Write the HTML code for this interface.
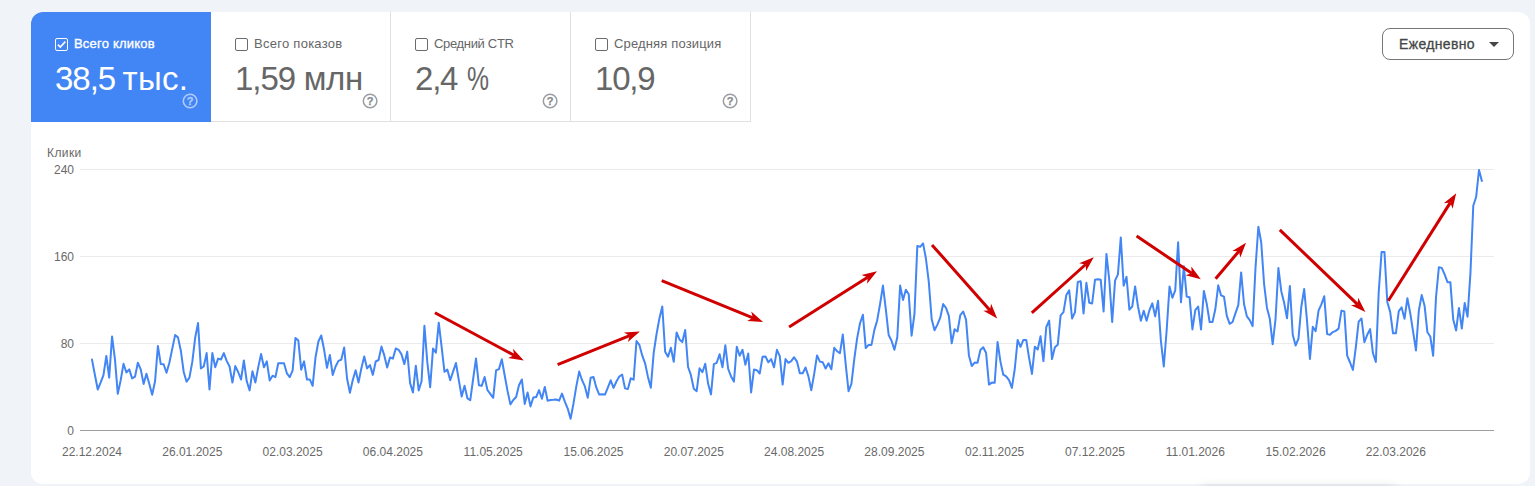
<!DOCTYPE html>
<html><head><meta charset="utf-8">
<style>
html,body{margin:0;padding:0;}
body{width:1535px;height:486px;overflow:hidden;background:#f0f4f9;font-family:"Liberation Sans",sans-serif;position:relative;}
.card{position:absolute;left:31px;top:12px;width:1499px;height:472px;background:#fff;border-radius:12px;overflow:hidden;}
.tab{position:absolute;top:0;height:109px;width:179px;border-right:1px solid #e0e0e0;border-bottom:1px solid #e0e0e0;box-sizing:content-box;}
.tab.active{background:#4285f4;border-color:#4285f4;}
.cb{position:absolute;left:24px;top:26px;width:11px;height:11px;border:1px solid #6b6b6b;border-radius:2px;}
.tab.active .cb{border-color:#fff;}
.lbl{position:absolute;left:43px;top:24px;font-size:13px;line-height:16px;color:#666;white-space:nowrap;}
.tab.active .lbl{color:#fff;-webkit-text-stroke:0.35px #fff;letter-spacing:0.2px;}
.val{position:absolute;left:24px;top:47.5px;font-size:33px;line-height:38px;color:#666;white-space:nowrap;}
.tab.active .val{color:#fff;}
.help{position:absolute;left:151px;top:81px;width:16px;height:16px;}
.dd{position:absolute;left:1382px;top:28px;width:130px;height:30px;border:1px solid #747775;border-radius:8px;background:#fff;}
.dd span{position:absolute;left:16px;top:7px;font-size:14px;line-height:16px;color:#444746;-webkit-text-stroke:0.3px #444746;letter-spacing:0.35px;white-space:nowrap;}
.dd i{position:absolute;left:105.5px;top:13px;width:0;height:0;border-left:5px solid transparent;border-right:5px solid transparent;border-top:5px solid #444746;}
.yl{position:absolute;width:40px;text-align:right;font-size:12px;line-height:14px;color:#696969;left:34px;}
.xl{position:absolute;top:445px;width:80px;text-align:center;font-size:12px;line-height:14px;color:#696969;}
.ttl{position:absolute;left:47px;top:146px;font-size:12px;line-height:14px;color:#696969;letter-spacing:0.4px;}
svg.chart{position:absolute;left:0;top:0;}
</style></head><body>
<div class="card">
 <div class="tab active" style="left:0"><div class="cb"><svg width="11" height="11" viewBox="0 0 11 11" style="position:absolute;left:0;top:0"><path d="M1.8 5.6 L4.3 8.1 L9.3 2.6" fill="none" stroke="#fff" stroke-width="1.6"/></svg></div><div class="lbl">Всего кликов</div><div class="val"><span style="letter-spacing:-1px">38,5</span><span style="letter-spacing:0.3px;margin-left:7.3px">тыс.</span></div>
  <svg class="help" viewBox="0 0 16 16"><circle cx="8.1" cy="8" r="6.8" fill="none" stroke="#b0cbfa" stroke-width="1.6"/><text x="8.1" y="12.2" font-size="11" text-anchor="middle" fill="#b0cbfa" stroke="#b0cbfa" stroke-width="0.3" font-family="Liberation Sans" font-weight="bold">?</text></svg></div>
 <div class="tab" style="left:180px"><div class="cb"></div><div class="lbl" style="letter-spacing:0.27px">Всего показов</div><div class="val"><span style="letter-spacing:-1px">1,59</span><span style="letter-spacing:-0.3px;margin-left:8.5px">млн</span></div>
  <svg class="help" viewBox="0 0 16 16"><circle cx="8.1" cy="8" r="6.8" fill="none" stroke="#9a9ea3" stroke-width="1.5"/><text x="8.1" y="12.2" font-size="11" text-anchor="middle" fill="#85898e" stroke="#85898e" stroke-width="0.25" font-family="Liberation Sans" font-weight="bold">?</text></svg></div>
 <div class="tab" style="left:360px"><div class="cb"></div><div class="lbl" style="letter-spacing:-0.33px">Средний CTR</div><div class="val"><span style="letter-spacing:-1.2px">2,4</span><span style="display:inline-block;transform:scaleX(.75);transform-origin:left center;margin-left:9.3px">%</span></div>
  <svg class="help" viewBox="0 0 16 16"><circle cx="8.1" cy="8" r="6.8" fill="none" stroke="#9a9ea3" stroke-width="1.5"/><text x="8.1" y="12.2" font-size="11" text-anchor="middle" fill="#85898e" stroke="#85898e" stroke-width="0.25" font-family="Liberation Sans" font-weight="bold">?</text></svg></div>
 <div class="tab" style="left:540px"><div class="cb"></div><div class="lbl" style="letter-spacing:0.15px">Средняя позиция</div><div class="val" style="letter-spacing:-1.2px">10,9</div>
  <svg class="help" viewBox="0 0 16 16"><circle cx="8.1" cy="8" r="6.8" fill="none" stroke="#9a9ea3" stroke-width="1.5"/><text x="8.1" y="12.2" font-size="11" text-anchor="middle" fill="#85898e" stroke="#85898e" stroke-width="0.25" font-family="Liberation Sans" font-weight="bold">?</text></svg></div>
</div>
<div class="dd"><span>Ежедневно</span><i></i></div>
<div class="ttl">Клики</div>
<div class="yl" style="top:163px">240</div>
<div class="yl" style="top:250px">160</div>
<div class="yl" style="top:337px">80</div>
<div class="yl" style="top:424px">0</div>
<div class="xl" style="left:52.0px">22.12.2024</div>
<div class="xl" style="left:152.3px">26.01.2025</div>
<div class="xl" style="left:252.6px">02.03.2025</div>
<div class="xl" style="left:352.9px">06.04.2025</div>
<div class="xl" style="left:453.2px">11.05.2025</div>
<div class="xl" style="left:553.5px">15.06.2025</div>
<div class="xl" style="left:653.8px">20.07.2025</div>
<div class="xl" style="left:754.1px">24.08.2025</div>
<div class="xl" style="left:854.4px">28.09.2025</div>
<div class="xl" style="left:954.7px">02.11.2025</div>
<div class="xl" style="left:1055.0px">07.12.2025</div>
<div class="xl" style="left:1155.3px">11.01.2026</div>
<div class="xl" style="left:1255.6px">15.02.2026</div>
<div class="xl" style="left:1355.9px">22.03.2026</div>
<svg class="chart" width="1535" height="486" viewBox="0 0 1535 486">
 <g shape-rendering="crispEdges">
 <rect x="80" y="169" width="1414" height="1" fill="#ebebeb"/>
 <rect x="80" y="256" width="1414" height="1" fill="#ebebeb"/>
 <rect x="80" y="343" width="1414" height="1" fill="#ebebeb"/>
 <rect x="80" y="430" width="1414" height="1" fill="#9e9e9e"/>
 </g>
 <polyline fill="none" stroke="#4285f4" stroke-width="2" stroke-linejoin="round" stroke-linecap="round" points="92.0,359.6 94.87,374.8 97.73,389.5 100.6,382.6 103.46,375.2 106.33,355.9 109.19,377.6 112.06,336.4 114.93,359.1 117.79,393.8 120.66,380.4 123.52,363.8 126.39,372.5 129.25,369.4 132.12,378.4 134.99,376.7 137.85,362.7 140.72,369.3 143.58,383.9 146.45,373.8 149.31,384.1 152.18,394.7 155.05,381.3 157.91,346.1 160.78,364.1 163.64,364.2 166.51,372.8 169.37,362.8 172.24,348.9 175.11,335.1 177.97,337.4 180.84,350.7 183.7,372.0 186.57,381.7 189.43,377.6 192.3,361.9 195.17,337.8 198.03,323.1 200.9,368.4 203.76,366.5 206.63,353.1 209.49,389.5 212.36,353.1 215.23,367.3 218.09,358.6 220.96,359.5 223.82,353.1 226.69,360.9 229.55,366.5 232.42,382.6 235.29,366.1 238.15,372.0 241.02,379.5 243.88,360.5 246.75,381.3 249.61,390.4 252.48,371.2 255.35,382.6 258.21,367.4 261.08,354.0 263.94,367.3 266.81,361.4 269.67,380.4 272.54,375.7 275.41,377.1 278.27,363.3 281.14,363.3 284.0,363.3 286.87,373.3 289.73,377.1 292.6,370.7 295.47,337.9 298.33,340.6 301.2,369.7 304.06,361.4 306.93,379.5 309.79,379.4 312.66,385.8 315.53,357.2 318.39,341.5 321.26,335.5 324.12,349.8 326.99,367.8 329.85,354.9 332.72,374.9 335.59,366.5 338.45,360.9 341.32,359.6 344.18,347.5 347.05,378.5 349.91,392.8 352.78,380.0 355.65,370.3 358.51,382.6 361.38,368.3 364.24,356.4 367.11,368.4 369.97,365.1 372.84,374.9 375.71,361.5 378.57,360.0 381.44,346.6 384.3,355.4 387.17,367.5 390.03,357.4 392.9,358.6 395.77,348.5 398.63,349.8 401.5,354.4 404.36,364.1 407.23,351.6 410.09,383.1 412.96,392.5 415.83,365.7 418.69,390.4 421.56,381.3 424.42,325.7 427.29,361.9 430.15,387.2 433.02,348.6 435.89,352.6 438.75,322.7 441.62,346.9 444.48,371.8 447.35,369.6 450.21,380.2 453.08,371.6 455.95,363.0 458.81,380.2 461.68,396.5 464.54,385.7 467.41,398.3 470.27,400.2 473.14,379.0 476.01,358.5 478.87,385.2 481.74,385.9 484.6,377.0 487.47,390.1 490.33,393.8 493.2,397.8 496.07,370.4 498.93,369.1 501.8,359.3 504.66,375.3 507.53,390.9 510.39,404.4 513.26,400.0 516.13,397.0 518.99,385.2 521.86,379.5 524.72,403.9 527.59,392.4 530.45,406.4 533.32,397.5 536.19,397.0 539.05,390.1 541.92,398.8 544.78,386.9 547.65,400.7 550.51,400.0 553.38,399.8 556.25,399.5 559.11,400.7 561.98,393.6 564.84,401.7 567.71,408.6 570.57,418.8 573.44,403.7 576.31,386.4 579.17,371.6 582.04,380.2 584.9,386.4 587.77,397.8 590.63,377.8 593.5,377.0 596.37,387.7 599.23,394.6 602.1,394.3 604.96,394.6 607.83,387.7 610.69,380.3 613.56,387.9 616.43,381.5 619.29,376.5 622.16,374.6 625.02,388.4 627.89,389.1 630.75,378.3 633.62,379.7 636.49,341.1 639.35,344.8 642.22,355.4 645.08,363.3 647.95,376.9 650.81,387.8 653.68,353.0 656.55,334.0 659.41,318.4 662.28,306.5 665.14,351.7 668.01,356.7 670.87,347.8 673.74,361.8 676.61,332.5 679.47,339.4 682.34,342.1 685.2,330.0 688.07,367.0 690.93,375.2 693.8,388.8 696.67,391.2 699.53,368.3 702.4,372.2 705.26,363.8 708.13,383.8 710.99,394.4 713.86,364.1 716.73,362.8 719.59,354.2 722.46,367.3 725.32,345.3 728.19,369.0 731.05,376.4 733.92,381.6 736.79,346.8 739.65,355.7 742.52,349.8 745.38,364.8 748.25,353.5 751.11,392.5 753.98,369.5 756.85,370.2 759.71,373.5 762.58,356.7 765.44,356.4 768.31,362.3 771.17,359.1 774.04,367.3 776.91,349.8 779.77,356.2 782.64,384.6 785.5,359.1 788.37,362.8 791.23,361.1 794.1,357.2 796.97,361.6 799.83,373.2 802.7,373.2 805.56,367.5 808.43,376.4 811.29,390.2 814.16,374.0 817.03,355.4 819.89,361.6 822.76,362.3 825.62,368.5 828.49,363.3 831.35,369.3 834.22,347.8 837.09,351.2 839.95,353.2 842.82,334.5 845.68,364.1 848.55,391.2 851.41,383.8 854.28,359.1 857.15,338.1 860.01,323.3 862.88,314.7 865.74,348.1 868.61,344.9 871.47,344.9 874.34,330.1 877.21,320.2 880.07,304.1 882.94,285.6 885.8,309.1 888.67,335.0 891.53,340.7 894.4,349.8 897.27,337.5 900.13,285.6 903.0,299.9 905.86,289.8 908.73,294.3 911.59,335.7 914.46,314.0 917.33,245.9 920.19,246.8 923.06,243.4 925.92,258.5 928.79,281.9 931.65,319.0 934.52,330.3 937.39,324.6 940.25,317.7 943.12,304.1 945.98,307.8 948.85,315.9 951.71,343.3 954.58,329.3 957.45,331.5 960.31,315.2 963.18,311.5 966.04,319.6 968.91,355.4 971.77,366.0 974.64,362.6 977.51,362.8 980.37,350.0 983.24,347.3 986.1,353.0 988.97,384.6 991.83,382.6 994.7,382.8 997.57,341.9 1000.43,361.6 1003.3,374.7 1006.16,376.4 1009.03,380.1 1011.89,387.8 1014.76,369.0 1017.63,339.9 1020.49,346.8 1023.36,339.9 1026.22,339.9 1029.09,357.9 1031.95,373.9 1034.82,346.8 1037.69,349.5 1040.55,336.2 1043.42,361.1 1046.28,327.0 1049.15,320.6 1052.01,359.1 1054.88,347.3 1057.75,344.8 1060.61,315.4 1063.48,312.2 1066.34,295.0 1069.21,290.3 1072.07,318.5 1074.94,312.3 1077.81,281.9 1080.67,281.2 1083.54,313.5 1086.4,282.8 1089.27,302.8 1092.13,303.5 1095.0,279.8 1097.87,279.3 1100.73,279.8 1103.6,311.4 1106.46,253.9 1109.33,280.6 1112.19,322.0 1115.06,280.6 1117.93,274.4 1120.79,237.4 1123.66,285.7 1126.52,276.9 1129.39,309.7 1132.25,306.5 1135.12,286.5 1137.99,306.5 1140.85,320.8 1143.72,310.7 1146.58,320.8 1149.45,310.2 1152.31,303.3 1155.18,316.4 1158.05,300.8 1160.91,341.0 1163.78,366.5 1166.64,330.5 1169.51,286.5 1172.37,297.8 1175.24,290.4 1178.11,242.3 1180.97,302.3 1183.84,266.2 1186.7,296.6 1189.57,297.3 1192.43,329.4 1195.3,310.2 1198.17,306.5 1201.03,329.4 1203.9,290.9 1206.76,304.0 1209.63,322.0 1212.49,322.0 1215.36,309.0 1218.23,285.3 1221.09,295.4 1223.96,296.6 1226.82,315.9 1229.69,323.8 1232.55,322.0 1235.42,313.4 1238.29,305.2 1241.15,272.4 1244.02,304.0 1246.88,316.4 1249.75,320.1 1252.61,326.2 1255.48,268.2 1258.35,226.7 1261.21,242.3 1264.08,283.8 1266.94,307.7 1269.81,318.8 1272.67,344.3 1275.54,318.8 1278.41,268.0 1281.27,291.2 1284.14,302.8 1287.0,318.3 1289.87,286.0 1292.73,334.7 1295.6,345.5 1298.47,338.6 1301.33,306.5 1304.2,289.0 1307.06,321.3 1309.93,358.9 1312.79,326.8 1315.66,331.2 1318.53,310.6 1321.39,304.4 1324.26,296.3 1327.12,334.1 1329.99,334.8 1332.85,332.1 1335.72,330.9 1338.59,328.6 1341.45,310.6 1344.32,311.4 1347.18,355.6 1350.05,362.5 1352.91,369.9 1355.78,347.7 1358.65,321.7 1361.51,318.5 1364.38,342.2 1367.24,334.8 1370.11,329.1 1372.97,353.3 1375.84,362.0 1378.71,292.1 1381.57,252.1 1384.44,251.9 1387.3,302.0 1390.17,311.9 1393.03,333.3 1395.9,333.3 1398.77,311.1 1401.63,307.4 1404.5,318.8 1407.36,298.3 1410.23,313.1 1413.09,331.6 1415.96,350.4 1418.83,310.6 1421.69,295.1 1424.56,305.7 1427.42,332.3 1430.29,336.5 1433.15,355.8 1436.02,297.0 1438.89,267.2 1441.75,267.9 1444.62,274.3 1447.48,282.2 1450.35,282.2 1453.21,319.3 1456.08,330.6 1458.95,307.9 1461.81,328.6 1464.68,303.0 1467.54,316.8 1470.41,273.6 1473.27,205.7 1476.14,197.0 1479.01,169.9 1481.87,181.0"/>
 <line x1="434.9" y1="312.8" x2="514.1" y2="355.3" stroke="#d00000" stroke-width="3.0"/><polygon points="523.8,360.5 508.1,358.0 514.1,355.3 513.0,348.8" fill="#d00000"/>
<line x1="557.6" y1="364.7" x2="629.7" y2="335.7" stroke="#d00000" stroke-width="3.0"/><polygon points="639.9,331.6 627.9,342.0 629.7,335.7 624.0,332.4" fill="#d00000"/>
<line x1="661.7" y1="280.6" x2="752.9" y2="317.8" stroke="#d00000" stroke-width="3.0"/><polygon points="763.1,322.0 747.2,321.1 752.9,317.8 751.2,311.5" fill="#d00000"/>
<line x1="789.1" y1="327.0" x2="867.7" y2="277.2" stroke="#d00000" stroke-width="3.0"/><polygon points="877.0,271.3 867.1,283.7 867.7,277.2 861.5,274.9" fill="#d00000"/>
<line x1="932.0" y1="244.9" x2="989.9" y2="310.3" stroke="#d00000" stroke-width="3.0"/><polygon points="997.2,318.5 983.4,310.7 989.9,310.3 991.1,303.8" fill="#d00000"/>
<line x1="1031.8" y1="312.8" x2="1085.6" y2="264.5" stroke="#d00000" stroke-width="3.0"/><polygon points="1093.8,257.2 1086.1,271.1 1085.6,264.5 1079.2,263.3" fill="#d00000"/>
<line x1="1136.6" y1="236.1" x2="1191.7" y2="273.2" stroke="#d00000" stroke-width="3.0"/><polygon points="1200.8,279.3 1185.5,275.2 1191.7,273.2 1191.3,266.6" fill="#d00000"/>
<line x1="1215.6" y1="278.8" x2="1238.9" y2="251.2" stroke="#d00000" stroke-width="3.0"/><polygon points="1246.0,242.8 1240.3,257.6 1238.9,251.2 1232.3,250.9" fill="#d00000"/>
<line x1="1279.8" y1="229.9" x2="1357.5" y2="304.3" stroke="#d00000" stroke-width="3.0"/><polygon points="1365.4,311.9 1351.0,305.3 1357.5,304.3 1358.2,297.8" fill="#d00000"/>
<line x1="1388.3" y1="300.7" x2="1450.3" y2="202.6" stroke="#d00000" stroke-width="3.0"/><polygon points="1456.2,193.3 1452.6,208.8 1450.3,202.6 1443.8,203.2" fill="#d00000"/>
</svg>
<div style="position:absolute;left:1203px;top:492px;width:190px;height:20px;box-shadow:0 0 12px 2px rgba(0,0,0,.28)"></div>
</body></html>
